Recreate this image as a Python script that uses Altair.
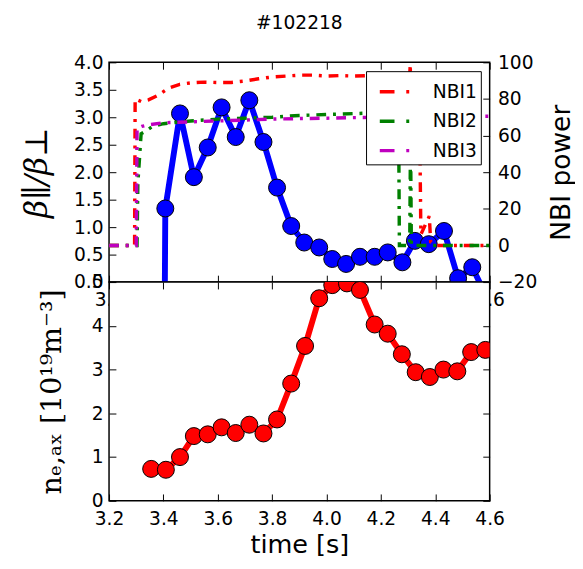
import altair as alt
import pandas as pd

# ---------------- data ----------------
beta_t = [3.355, 3.407, 3.461, 3.512, 3.563, 3.614, 3.666, 3.716, 3.768, 3.818,
          3.870, 3.918, 3.973, 4.021, 4.072, 4.123, 4.177, 4.225, 4.279, 4.325,
          4.376, 4.432, 4.484, 4.536, 4.587]
beta_v = [-40, 1.34, 3.07, 1.91, 2.45, 3.18, 2.64, 3.31, 2.55, 1.72,
          1.02, 0.72, 0.63, 0.42, 0.33, 0.46, 0.46, 0.54, 0.36, 0.75,
          0.69, 0.93, 0.07, 0.27, -0.25]

dens_t = [3.355, 3.409, 3.461, 3.512, 3.563, 3.614, 3.666, 3.716, 3.768, 3.818,
          3.870, 3.921, 3.973, 4.021, 4.075, 4.123, 4.177, 4.225, 4.277, 4.328,
          4.380, 4.430, 4.481, 4.532, 4.584]
dens_v = [0.73, 0.71, 1.00, 1.48, 1.52, 1.68, 1.55, 1.74, 1.54, 1.86,
          2.68, 3.54, 4.63, 4.93, 4.97, 4.82, 4.03, 3.82, 3.35, 2.94,
          2.83, 3.00, 2.96, 3.40, 3.45]

nbi1_t = [3.20, 3.294, 3.296, 3.32, 3.345, 3.38, 3.42, 3.46, 3.50, 3.55, 3.60,
          3.65, 3.70, 3.75, 3.80, 3.85, 3.90, 3.95, 4.00, 4.05, 4.10, 4.15,
          4.20, 4.25, 4.306, 4.308, 4.311, 4.344, 4.347, 4.378, 4.383, 4.40,
          4.50, 4.60]
nbi1_v = [0, 0, 80, 78.5, 79.5, 82, 86, 88, 88.8, 89.2, 89,
          89, 89.8, 91, 92, 92.5, 93, 93, 92.5, 92.8, 92.5, 92.7,
          92.5, 92.6, 93, 99, 60, 47, 6, 16, 2, 0,
          0, 0]

nbi2_t = [3.20, 3.303, 3.306, 3.318, 3.33, 3.36, 3.40, 3.50, 3.60, 3.70, 3.80,
          3.90, 4.00, 4.10, 4.20, 4.265, 4.268, 4.306, 4.309, 4.312, 4.60]
nbi2_v = [0, 0, 34, 61, 62, 65, 66.5, 68, 69, 69.5, 70,
          71, 71.5, 72, 72.5, 72.5, 0, 0, 60, 0, 0]

nbi3_t = [3.20, 3.300, 3.303, 3.32, 3.35, 3.40, 3.50, 3.60, 3.70, 3.80, 3.90,
          4.00, 4.10, 4.20, 4.30, 4.40, 4.50, 4.60]
nbi3_v = [0, 0, 64, 65, 66, 67, 67.5, 68, 68.5, 69, 69.3,
          69.5, 69.8, 70, 70.2, 70.4, 70.5, 70.6]

beam_names = ["NBI1", "NBI2", "NBI3"]
beam_colors = ["#ff0000", "#008000", "#bf00bf"]

x_ticks = [3.2, 3.4, 3.6, 3.8, 4.0, 4.2, 4.4, 4.6]
beta_ticks = [0.0, 0.5, 1.0, 1.5, 2.0, 2.5, 3.0, 3.5, 4.0]
nbi_ticks = [-20, 0, 20, 40, 60, 80, 100]
dens_ticks = [0, 1, 2, 3, 4, 5]

# ---------------- tables ----------------
beta_df = pd.DataFrame({"t": beta_t, "v": beta_v})
dens_df = pd.DataFrame({"t": dens_t, "v": dens_v})
nbi_df = pd.concat([
    pd.DataFrame({"t": nbi1_t, "p": nbi1_v, "beam": "NBI1"}),
    pd.DataFrame({"t": nbi2_t, "p": nbi2_v, "beam": "NBI2"}),
    pd.DataFrame({"t": nbi3_t, "p": nbi3_v, "beam": "NBI3"}),
], ignore_index=True)

TICK = 7
TICK_IN = {"expr": f"-{TICK}"}
x_scale = alt.Scale(domain=[3.2, 4.6], nice=False, zero=False)
serif = "DejaVu Serif"

# ---------------- top panel ----------------
beta_line = alt.Chart(beta_df).mark_line(color="#0000ff", strokeWidth=6, clip=True).encode(
    x=alt.X("t:Q", scale=x_scale,
            axis=alt.Axis(orient="bottom", values=x_ticks, format=".1f", title=None,
                          tickSize=TICK_IN, labelPadding=TICK + 9, labelFlush=False)),
    y=alt.Y("v:Q", scale=alt.Scale(domain=[0, 4], nice=False, zero=False),
            axis=alt.Axis(orient="left", values=beta_ticks, format=".1f",
                          title="β∥/β⊥", titleFont=serif, titleFontStyle="italic",
                          titleFontSize=32, titlePadding=TICK + 14,
                          tickSize=TICK_IN, labelPadding=TICK + 6)),
)
beta_pts = alt.Chart(beta_df).mark_point(
    shape="circle", filled=True, fill="#0000ff", stroke="black", strokeWidth=1,
    size=300, opacity=1, clip=True
).encode(
    x=alt.X("t:Q", scale=x_scale, axis=None),
    y=alt.Y("v:Q", scale=alt.Scale(domain=[0, 4], nice=False, zero=False), axis=None),
)
nbi = alt.Chart(nbi_df).mark_line(strokeWidth=3.5, strokeDash=[10, 7, 3, 7], clip=True).encode(
    x=alt.X("t:Q", scale=x_scale,
            axis=alt.Axis(orient="top", values=x_ticks, labels=False, title=None,
                          tickSize=TICK_IN)),
    y=alt.Y("p:Q", scale=alt.Scale(domain=[-20, 100], nice=False, zero=False),
            axis=alt.Axis(orient="right", values=nbi_ticks, title="NBI power",
                          titleAngle=270, titleBaseline="top", titlePadding=12,
                          tickSize=TICK_IN, labelPadding=TICK + 8)),
    color=alt.Color("beam:N",
                    scale=alt.Scale(domain=beam_names, range=beam_colors),
                    legend=alt.Legend(title=None, orient="top-right", offset=9,
                                      strokeColor="black", fillColor="white",
                                      padding=4, symbolOffset=8, symbolType="stroke",
                                      symbolSize=900, symbolStrokeWidth=3.5,
                                      symbolDash=[15, 12, 3, 12], labelOffset=22,
                                      labelFontSize=19, labelFont="DejaVu Sans",
                                      labelColor="black", rowPadding=3,
                                      cornerRadius=0)),
    detail="beam:N",
)

top = alt.layer(beta_line, beta_pts, nbi).resolve_scale(
    y="independent"
).resolve_axis(x="independent", y="independent").properties(
    width=388, height=224,
    title=alt.Title("#102218", fontSize=19, font="DejaVu Sans", fontWeight="normal",
                    color="black", anchor="middle", frame="group", offset=21),
)

# ---------------- bottom panel ----------------
dens_scale = alt.Scale(domain=[0, 5], nice=False, zero=False)
dens_line = alt.Chart(dens_df).mark_line(color="#ff0000", strokeWidth=6, clip=True).encode(
    x=alt.X("t:Q", scale=x_scale,
            axis=alt.Axis(orient="bottom", values=x_ticks, format=".1f",
                          title="time [s]", titleFontSize=26, titlePadding=4,
                          tickSize=TICK_IN, labelPadding=TICK + 9, labelFlush=False)),
    y=alt.Y("v:Q", scale=dens_scale,
            axis=alt.Axis(orient="left", values=dens_ticks, format="d",
                          title="nₑ,ₐₓ [10¹⁹m⁻³]", titleFont=serif,
                          titleFontSize=29, titlePadding=TICK + 18,
                          tickSize=TICK_IN, labelPadding=TICK + 6)),
)
dens_pts = alt.Chart(dens_df).mark_point(
    shape="circle", filled=True, fill="#ff0000", stroke="black", strokeWidth=1,
    size=300, opacity=1, clip=True
).encode(
    x=alt.X("t:Q", scale=x_scale,
            axis=alt.Axis(orient="top", values=x_ticks, labels=False, title=None,
                          tickSize=TICK_IN)),
    y=alt.Y("v:Q", scale=dens_scale,
            axis=alt.Axis(orient="right", values=dens_ticks, labels=False, title=None,
                          tickSize=TICK_IN)),
)
bottom = alt.layer(dens_line, dens_pts).resolve_axis(
    x="independent", y="independent"
).properties(width=388, height=223)

chart = alt.vconcat(top, bottom, spacing=0, bounds="flush").configure_view(
    stroke="black", strokeWidth=1.5, fill="white"
).configure_axis(
    domain=False, grid=False, labelFont="DejaVu Sans", labelFontSize=19,
    labelColor="black", tickColor="black", tickWidth=1,
    titleFont="DejaVu Sans", titleFontSize=27, titleFontWeight="normal",
    titleColor="black",
).properties(background="white",
             padding={"left": 12, "top": 0, "right": 0, "bottom": 0})

chart.save("out.html", embed_options={"renderer": "svg", "actions": False})
